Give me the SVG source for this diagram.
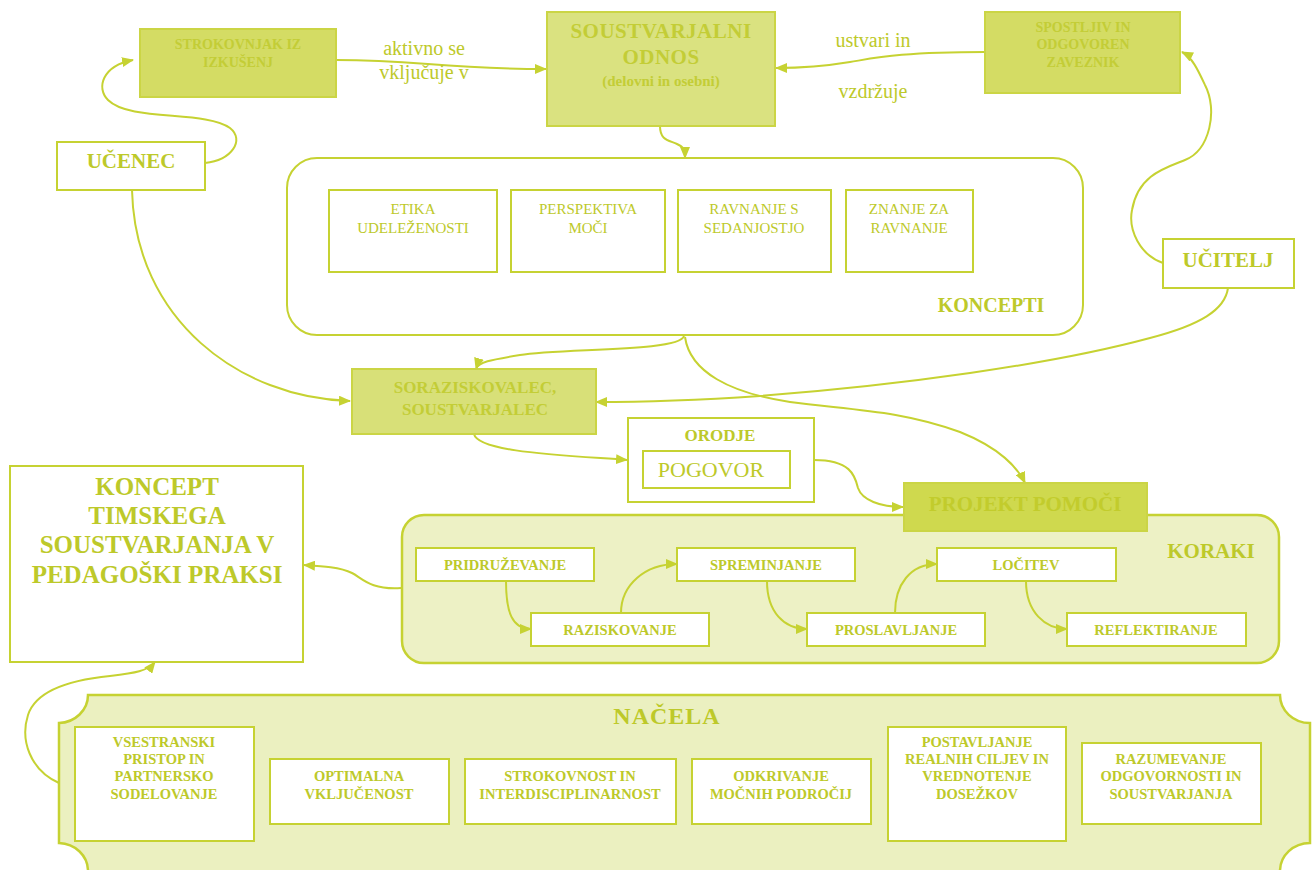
<svg xmlns="http://www.w3.org/2000/svg" width="1313" height="870" viewBox="0 0 1313 870">
<style>
.box{fill:#ffffff;stroke:#c6d232;stroke-width:2}
.fbox{fill:#d4dc64;stroke:#cbd545;stroke-width:2}
.pale{fill:#edf1c5;stroke:#c6d232;stroke-width:2.5}
.t{font-family:"Liberation Serif","Times New Roman",serif;fill:#bdc92a;text-anchor:middle}
.b{font-weight:bold}
.ft{fill:#c3cd36}
.lbl{font-family:"Liberation Serif","Times New Roman",serif;fill:#bdc92a;text-anchor:middle;font-size:20px}
.c{fill:none;stroke:#c6d232;stroke-width:2}
</style>
<defs>
<marker id="ah" markerUnits="userSpaceOnUse" markerWidth="12" markerHeight="10" refX="11" refY="5" orient="auto">
<path d="M0,0 L12,5 L0,10 z" fill="#c6d232"/>
</marker>
</defs>
<rect width="1313" height="870" fill="#ffffff"/>

<g id="koncepti">
<rect x="287" y="158" width="796" height="177" rx="30" ry="30" class="box"/>
<text x="991" y="312" class="t b" font-size="20">KONCEPTI</text>
</g>
<g id="etika"><rect x="329" y="190" width="168" height="82" class="box"/>
<text class="t" font-size="15"><tspan x="413" y="214">ETIKA</tspan><tspan x="413" y="233">UDELEŽENOSTI</tspan></text></g>
<g id="perspektiva"><rect x="511" y="190" width="154" height="82" class="box"/>
<text class="t" font-size="15"><tspan x="588" y="214">PERSPEKTIVA</tspan><tspan x="588" y="233">MOČI</tspan></text></g>
<g id="ravnanje"><rect x="678" y="190" width="153" height="82" class="box"/>
<text class="t" font-size="15"><tspan x="754" y="214">RAVNANJE S</tspan><tspan x="754" y="233">SEDANJOSTJO</tspan></text></g>
<g id="znanje"><rect x="846" y="190" width="127" height="82" class="box"/>
<text class="t" font-size="15"><tspan x="909" y="214">ZNANJE ZA</tspan><tspan x="909" y="233">RAVNANJE</tspan></text></g>

<g id="koraki">
<rect x="402" y="515" width="877" height="148" rx="22" ry="22" class="pale"/>
<text x="1211" y="558" class="t b" font-size="21">KORAKI</text>
</g>

<g id="nacela">
<path d="M88,695 H1280 A30,28 0 0 0 1310,723 V843 A30,28 0 0 0 1280,871 L1280,880 H88 L88,871 A30,28 0 0 0 59,843 V723 A30,28 0 0 0 88,695 Z" class="pale" style="fill:#ebf0c0"/>
<text x="667" y="724" class="t b" font-size="24" letter-spacing="1">NAČELA</text>
</g>

<g id="connectors">
<path class="c" marker-end="url(#ah)" d="M336,60 C420,60 440,69 546,69"/>
<path class="c" marker-end="url(#ah)" d="M985,52 C900,52 875,58 850,62 C820,67 800,68 776,68"/>
<path class="c" marker-end="url(#ah)" d="M660,126 C660,140 668,140 677,144 C684,147 685,150 685,158"/>
<path class="c" marker-end="url(#ah)" d="M205,163 C232,160 245,140 230,128 C205,110 130,122 108,100 C96,88 102,66 133,60"/>
<path class="c" marker-end="url(#ah)" d="M132,190 C135,320 240,398 350,401"/>
<path class="c" marker-end="url(#ah)" d="M684,336 C680,352 560,348 520,355 C490,360 478,362 476,369"/>
<path class="c" marker-end="url(#ah)" d="M685,337 C690,372 730,393 790,402 C850,410 900,410 960,432 C1000,448 1018,468 1025,483"/>
<path class="c" marker-end="url(#ah)" d="M1228,288 C1225,310 1200,325 1150,338 C1050,365 900,385 760,396 C700,400 640,402 596,402"/>
<path class="c" marker-end="url(#ah)" d="M1163,263 C1140,255 1128,230 1132,210 C1138,175 1165,168 1185,160 C1210,150 1218,110 1205,85 C1198,70 1192,57 1182,52"/>
<path class="c" marker-end="url(#ah)" d="M474,434 C478,452 560,455 627,460"/>
<path class="c" marker-end="url(#ah)" d="M814,460 C850,460 855,475 858,488 C862,500 880,507 903,507"/>
<path class="c" marker-end="url(#ah)" d="M401,588 C370,590 362,578 352,573 C340,567 320,566 304,565"/>
<path class="c" marker-end="url(#ah)" d="M59,783 C30,770 20,740 28,715 C36,690 70,680 110,676 C135,673 148,671 155,662"/>
<path class="c" marker-end="url(#ah)" d="M506,581 C506,612 512,629 531,629"/>
<path class="c" marker-end="url(#ah)" d="M621,613 C621,585 645,564 677,564"/>
<path class="c" marker-end="url(#ah)" d="M767,581 C767,612 784,629 807,629"/>
<path class="c" marker-end="url(#ah)" d="M895,613 C895,585 910,564 937,564"/>
<path class="c" marker-end="url(#ah)" d="M1026,581 C1026,612 1045,629 1067,629"/>
</g>

<g id="strokovnjak"><rect x="140" y="29" width="196" height="68" class="fbox"/>
<text class="t b ft" font-size="14"><tspan x="238" y="49">STROKOVNJAK IZ</tspan><tspan x="238" y="67">IZKUŠENJ</tspan></text></g>

<g id="soustvarjalni"><rect x="547" y="12" width="228" height="114" class="fbox" style="fill:#dae280"/>
<text class="t b ft" font-size="21" letter-spacing="0.5"><tspan x="661" y="38">SOUSTVARJALNI</tspan><tspan x="661" y="64">ODNOS</tspan></text>
<text x="661" y="86" class="t b ft" font-size="15">(delovni in osebni)</text></g>

<g id="spostljiv"><rect x="985" y="12" width="195" height="81" class="fbox"/>
<text class="t b ft" font-size="14"><tspan x="1083" y="32">SPOSTLJIV IN</tspan><tspan x="1083" y="49">ODGOVOREN</tspan><tspan x="1083" y="67">ZAVEZNIK</tspan></text></g>

<g id="labels">
<text class="lbl"><tspan x="424" y="55">aktivno se</tspan><tspan x="424" y="79">vključuje v</tspan></text>
<text x="873" y="47" class="lbl">ustvari in</text>
<text x="873" y="98" class="lbl">vzdržuje</text>
</g>

<g id="ucenec"><rect x="57" y="142" width="148" height="48" class="box"/>
<text x="131" y="168" class="t b" font-size="21">UČENEC</text></g>

<g id="ucitelj"><rect x="1163" y="239" width="131" height="49" class="box"/>
<text x="1228" y="267" class="t b" font-size="21">UČITELJ</text></g>

<g id="soraziskovalec"><rect x="352" y="369" width="244" height="65" class="fbox" style="fill:#d8e078"/>
<text class="t b ft" font-size="17"><tspan x="475" y="393">SORAZISKOVALEC,</tspan><tspan x="475" y="415">SOUSTVARJALEC</tspan></text></g>

<g id="orodje"><rect x="628" y="418" width="186" height="84" class="box"/>
<text x="720" y="441" class="t b" font-size="17">ORODJE</text>
<rect x="643" y="451" width="147" height="37" class="box"/>
<text x="711" y="477" class="t" font-size="22">POGOVOR</text></g>

<g id="projekt"><rect x="904" y="483" width="243" height="48" class="fbox" style="fill:#cfd94e"/>
<text x="1025" y="511" class="t b ft" font-size="21" style="fill:#c2cc2c">PROJEKT POMOČI</text></g>

<g id="koncept-timskega"><rect x="10" y="466" width="293" height="196" class="box"/>
<text class="t b" font-size="25"><tspan x="157" y="495">KONCEPT</tspan><tspan x="157" y="524">TIMSKEGA</tspan><tspan x="157" y="553">SOUSTVARJANJA V</tspan><tspan x="157" y="583">PEDAGOŠKI PRAKSI</tspan></text></g>

<g id="pridruzevanje"><rect x="416" y="548" width="178" height="33" class="box"/>
<text x="505" y="570" class="t b" font-size="14.5">PRIDRUŽEVANJE</text></g>
<g id="raziskovanje"><rect x="531" y="613" width="178" height="33" class="box"/>
<text x="620" y="635" class="t b" font-size="14.5">RAZISKOVANJE</text></g>
<g id="spreminjanje"><rect x="677" y="548" width="178" height="33" class="box"/>
<text x="766" y="570" class="t b" font-size="14.5">SPREMINJANJE</text></g>
<g id="proslavljanje"><rect x="807" y="613" width="178" height="33" class="box"/>
<text x="896" y="635" class="t b" font-size="14.5">PROSLAVLJANJE</text></g>
<g id="locitev"><rect x="937" y="548" width="179" height="33" class="box"/>
<text x="1026" y="570" class="t b" font-size="14.5">LOČITEV</text></g>
<g id="reflektiranje"><rect x="1067" y="613" width="179" height="33" class="box"/>
<text x="1156" y="635" class="t b" font-size="14.5">REFLEKTIRANJE</text></g>

<g id="vsestranski"><rect x="75" y="727" width="179" height="114" class="box"/>
<text class="t b" font-size="14.5"><tspan x="164" y="747">VSESTRANSKI</tspan><tspan x="164" y="764">PRISTOP IN</tspan><tspan x="164" y="781">PARTNERSKO</tspan><tspan x="164" y="799">SODELOVANJE</tspan></text></g>
<g id="optimalna"><rect x="270" y="759" width="179" height="65" class="box"/>
<text class="t b" font-size="14.5"><tspan x="359" y="781">OPTIMALNA</tspan><tspan x="359" y="799">VKLJUČENOST</tspan></text></g>
<g id="strokovnost"><rect x="465" y="759" width="211" height="65" class="box"/>
<text class="t b" font-size="14.5"><tspan x="570" y="781">STROKOVNOST IN</tspan><tspan x="570" y="799">INTERDISCIPLINARNOST</tspan></text></g>
<g id="odkrivanje"><rect x="692" y="759" width="179" height="65" class="box"/>
<text class="t b" font-size="14.5"><tspan x="781" y="781">ODKRIVANJE</tspan><tspan x="781" y="799">MOČNIH PODROČIJ</tspan></text></g>
<g id="postavljanje"><rect x="888" y="727" width="178" height="114" class="box"/>
<text class="t b" font-size="14.5"><tspan x="977" y="747">POSTAVLJANJE</tspan><tspan x="977" y="764">REALNIH CILJEV IN</tspan><tspan x="977" y="781">VREDNOTENJE</tspan><tspan x="977" y="799">DOSEŽKOV</tspan></text></g>
<g id="razumevanje"><rect x="1082" y="743" width="179" height="81" class="box"/>
<text class="t b" font-size="14.5"><tspan x="1171" y="764">RAZUMEVANJE</tspan><tspan x="1171" y="781">ODGOVORNOSTI IN</tspan><tspan x="1171" y="799">SOUSTVARJANJA</tspan></text></g>
</svg>
